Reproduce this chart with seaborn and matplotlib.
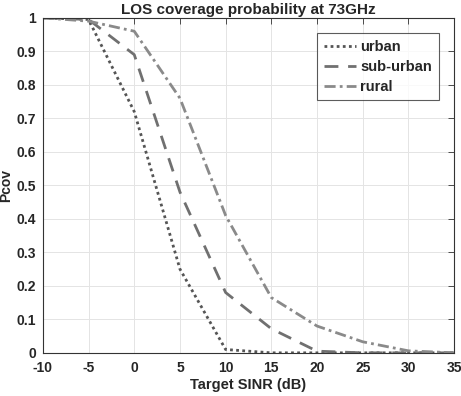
import numpy as np
import pandas as pd
import seaborn as sns
import matplotlib.pyplot as plt

sinr_db = [-10, -5, 0, 5, 10, 15, 20, 25, 30, 35]
urban = [1.0, 0.995, 0.72, 0.25, 0.01, 0.0, 0.0, 0.0, 0.0, 0.0]
suburban = [1.0, 0.995, 0.89, 0.48, 0.18, 0.072, 0.005, 0.0, 0.0, 0.0]
rural = [1.0, 0.99, 0.96, 0.76, 0.41, 0.165, 0.08, 0.033, 0.006, 0.0]
labels = ['urban', 'sub-urban', 'rural']

df = pd.DataFrame({
    'sinr': sinr_db * 3,
    'pcov': urban + suburban + rural,
    'scenario': [l for l in labels for _ in sinr_db],
})

sns.set_style('whitegrid')
plt.rcParams['font.family'] = ['Liberation Sans', 'DejaVu Sans']
plt.rcParams['font.weight'] = 'bold'
plt.rcParams['axes.unicode_minus'] = False

fig = plt.figure(figsize=(4.61, 3.96), dpi=100)
ax = fig.add_axes([0.093, 0.109, 0.892, 0.846])

colors = {'urban': '#555555', 'sub-urban': '#707070', 'rural': '#8a8a8a'}
dashes = {'urban': (1, 1.2), 'sub-urban': (5, 3.5), 'rural': (4, 1.5, 1, 1.5)}
sns.lineplot(data=df, x='sinr', y='pcov', hue='scenario', style='scenario',
             palette=colors, dashes=dashes, linewidth=2, ax=ax)

ax.set_xlim(-10, 35)
ax.set_ylim(0, 1)
ax.set_xticks(range(-10, 36, 5))
ax.set_yticks(np.arange(0, 1.01, 0.1))
ax.set_yticklabels(['0'] + [f'{v:.1f}' for v in np.arange(0.1, 0.95, 0.1)] + ['1'])
ax.tick_params(direction='in', length=4, labelsize=10, top=True, right=True,
               color='#333333', width=0.6)
ax.tick_params(axis='x', pad=6)
ax.tick_params(axis='y', pad=5)
for lab in ax.get_xticklabels() + ax.get_yticklabels():
    lab.set_fontweight('bold')
ax.grid(True, color='#e4e4e4', linewidth=0.7)
for sp in ax.spines.values():
    sp.set_color('#333333')
    sp.set_linewidth(0.8)

ax.set_title('LOS coverage probability at 73GHz', fontsize=11, fontweight='bold', pad=3)
ax.set_xlabel('Target SINR (dB)', fontsize=10.5, fontweight='bold', labelpad=2)
ax.set_ylabel('Pcov', fontsize=10, fontweight='bold')
ax.yaxis.set_label_coords(-0.072, 0.5)

leg = ax.legend(loc='upper right', fontsize=10.5, frameon=True, fancybox=False,
                handlelength=2.2, handletextpad=0.3, borderpad=0.45,
                labelspacing=0.4, bbox_to_anchor=(0.98, 0.975))
leg.get_frame().set_edgecolor('#333333')
leg.get_frame().set_linewidth(0.8)
for t in leg.get_texts():
    t.set_fontweight('bold')

fig.savefig('out.png', dpi=100)
